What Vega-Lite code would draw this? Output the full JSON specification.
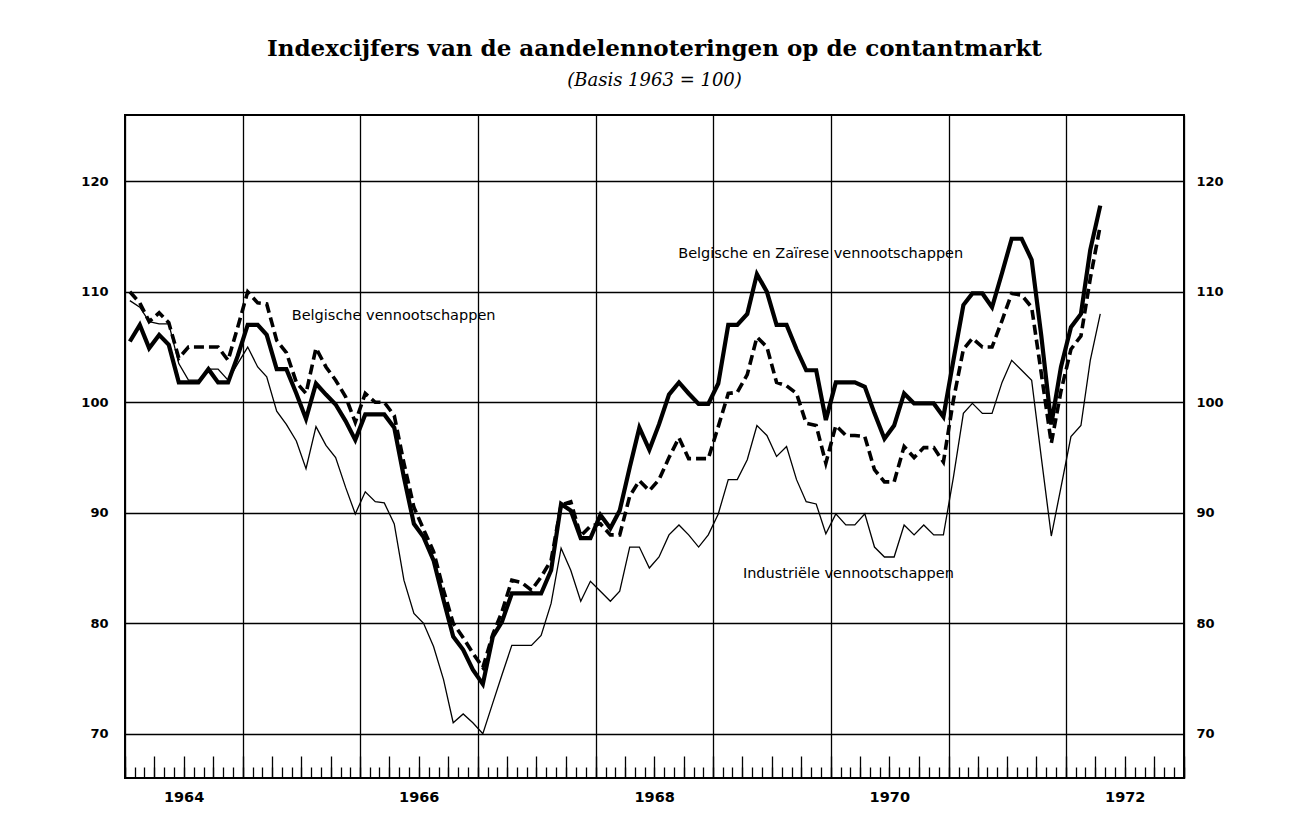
{
  "$schema": "https://vega.github.io/schema/vega-lite/v6.json",
  "width": 1059,
  "height": 663,
  "autosize": {"type": "none"},
  "padding": {"left": 125, "top": 115, "right": 125, "bottom": 48},
  "background": "white",
  "title": {
    "text": "Indexcijfers van de aandelennoteringen op de contantmarkt",
    "subtitle": "(Basis 1963 = 100)",
    "anchor": "middle",
    "font": "DejaVu Serif",
    "fontSize": 23,
    "fontWeight": "bold",
    "color": "black",
    "subtitleFont": "DejaVu Serif",
    "subtitleFontStyle": "italic",
    "subtitleFontSize": 18,
    "subtitleColor": "black",
    "subtitlePadding": 11,
    "offset": 25
  },
  "config": {
    "view": {"stroke": "black", "strokeWidth": 2},
    "axis": {"title": null, "labelColor": "black"}
  },
  "data": {
    "values": [
      {"d": "1964-01-16", "bz": 105.5, "b": 110.0, "ind": 109.2},
      {"d": "1964-02-16", "bz": 107.0, "b": 109.0, "ind": 108.6},
      {"d": "1964-03-16", "bz": 104.9, "b": 107.3, "ind": 107.3},
      {"d": "1964-04-16", "bz": 106.1, "b": 108.1, "ind": 107.1},
      {"d": "1964-05-16", "bz": 105.2, "b": 107.2, "ind": 107.1},
      {"d": "1964-06-16", "bz": 101.8, "b": 104.0, "ind": 103.5},
      {"d": "1964-07-16", "bz": 101.8, "b": 105.0, "ind": 102.0},
      {"d": "1964-08-16", "bz": 101.8, "b": 105.0, "ind": 102.0},
      {"d": "1964-09-16", "bz": 103.0, "b": 105.0, "ind": 103.0},
      {"d": "1964-10-16", "bz": 101.8, "b": 105.0, "ind": 103.0},
      {"d": "1964-11-16", "bz": 101.8, "b": 103.8, "ind": 102.0},
      {"d": "1964-12-16", "bz": 104.2, "b": 106.8, "ind": 103.5},
      {"d": "1965-01-16", "bz": 107.0, "b": 110.0, "ind": 105.0},
      {"d": "1965-02-16", "bz": 107.0, "b": 109.0, "ind": 103.2},
      {"d": "1965-03-16", "bz": 106.1, "b": 108.9, "ind": 102.3},
      {"d": "1965-04-16", "bz": 103.0, "b": 105.6, "ind": 99.2},
      {"d": "1965-05-16", "bz": 103.0, "b": 104.5, "ind": 98.0},
      {"d": "1965-06-16", "bz": 100.8, "b": 101.8, "ind": 96.5},
      {"d": "1965-07-16", "bz": 98.5, "b": 100.8, "ind": 94.0},
      {"d": "1965-08-16", "bz": 101.7, "b": 104.9, "ind": 97.8},
      {"d": "1965-09-16", "bz": 100.7, "b": 103.2, "ind": 96.1},
      {"d": "1965-10-16", "bz": 99.8, "b": 102.0, "ind": 95.0},
      {"d": "1965-11-16", "bz": 98.3, "b": 100.5, "ind": 92.3},
      {"d": "1965-12-16", "bz": 96.6, "b": 98.2, "ind": 89.9},
      {"d": "1966-01-16", "bz": 98.9, "b": 100.8, "ind": 91.9},
      {"d": "1966-02-16", "bz": 98.9, "b": 100.0, "ind": 91.0},
      {"d": "1966-03-16", "bz": 98.9, "b": 100.0, "ind": 90.9},
      {"d": "1966-04-16", "bz": 97.7, "b": 98.8, "ind": 89.0},
      {"d": "1966-05-16", "bz": 93.2, "b": 94.5, "ind": 83.9},
      {"d": "1966-06-16", "bz": 89.0, "b": 90.5, "ind": 80.9},
      {"d": "1966-07-16", "bz": 87.8, "b": 88.5, "ind": 80.0},
      {"d": "1966-08-16", "bz": 85.7, "b": 86.5, "ind": 77.9},
      {"d": "1966-09-16", "bz": 82.1, "b": 83.0, "ind": 74.9},
      {"d": "1966-10-16", "bz": 78.8, "b": 80.0, "ind": 71.0},
      {"d": "1966-11-16", "bz": 77.6, "b": 78.7, "ind": 71.8},
      {"d": "1966-12-16", "bz": 75.8, "b": 77.3, "ind": 71.0},
      {"d": "1967-01-16", "bz": 74.5, "b": 76.0, "ind": 70.0},
      {"d": "1967-02-16", "bz": 78.8, "b": 79.0, "ind": 72.8},
      {"d": "1967-03-16", "bz": 80.1, "b": 81.0, "ind": 75.3},
      {"d": "1967-04-16", "bz": 82.7, "b": 83.9, "ind": 78.0},
      {"d": "1967-05-16", "bz": 82.7, "b": 83.7, "ind": 78.0},
      {"d": "1967-06-16", "bz": 82.7, "b": 83.0, "ind": 78.0},
      {"d": "1967-07-16", "bz": 82.7, "b": 84.2, "ind": 78.9},
      {"d": "1967-08-16", "bz": 84.8, "b": 85.7, "ind": 81.8},
      {"d": "1967-09-16", "bz": 90.8, "b": 90.7, "ind": 86.8},
      {"d": "1967-10-16", "bz": 90.2, "b": 91.0, "ind": 84.8},
      {"d": "1967-11-16", "bz": 87.7, "b": 87.9, "ind": 82.0},
      {"d": "1967-12-16", "bz": 87.7, "b": 88.8, "ind": 83.8},
      {"d": "1968-01-16", "bz": 89.8, "b": 89.0, "ind": 82.9},
      {"d": "1968-02-16", "bz": 88.6, "b": 88.0, "ind": 82.0},
      {"d": "1968-03-16", "bz": 90.2, "b": 88.0, "ind": 82.9},
      {"d": "1968-04-16", "bz": 94.1, "b": 91.5, "ind": 86.9},
      {"d": "1968-05-16", "bz": 97.7, "b": 92.9, "ind": 86.9},
      {"d": "1968-06-16", "bz": 95.7, "b": 92.0, "ind": 85.0},
      {"d": "1968-07-16", "bz": 98.0, "b": 93.0, "ind": 86.0},
      {"d": "1968-08-16", "bz": 100.7, "b": 95.0, "ind": 88.0},
      {"d": "1968-09-16", "bz": 101.8, "b": 96.8, "ind": 88.9},
      {"d": "1968-10-16", "bz": 100.8, "b": 94.9, "ind": 88.0},
      {"d": "1968-11-16", "bz": 99.85, "b": 94.9, "ind": 86.9},
      {"d": "1968-12-16", "bz": 99.85, "b": 94.9, "ind": 88.0},
      {"d": "1969-01-16", "bz": 101.7, "b": 97.8, "ind": 89.9},
      {"d": "1969-02-16", "bz": 107.0, "b": 100.8, "ind": 93.0},
      {"d": "1969-03-16", "bz": 107.0, "b": 100.9, "ind": 93.0},
      {"d": "1969-04-16", "bz": 108.0, "b": 102.5, "ind": 94.8},
      {"d": "1969-05-16", "bz": 111.6, "b": 105.9, "ind": 97.9},
      {"d": "1969-06-16", "bz": 110.0, "b": 105.0, "ind": 97.0},
      {"d": "1969-07-16", "bz": 107.0, "b": 101.8, "ind": 95.1},
      {"d": "1969-08-16", "bz": 107.0, "b": 101.5, "ind": 96.0},
      {"d": "1969-09-16", "bz": 104.8, "b": 100.8, "ind": 93.0},
      {"d": "1969-10-16", "bz": 102.9, "b": 98.1, "ind": 91.0},
      {"d": "1969-11-16", "bz": 102.9, "b": 97.9, "ind": 90.8},
      {"d": "1969-12-16", "bz": 98.4, "b": 94.5, "ind": 88.1},
      {"d": "1970-01-16", "bz": 101.8, "b": 97.9, "ind": 89.9},
      {"d": "1970-02-16", "bz": 101.8, "b": 97.0, "ind": 88.9},
      {"d": "1970-03-16", "bz": 101.8, "b": 97.0, "ind": 88.9},
      {"d": "1970-04-16", "bz": 101.4, "b": 96.9, "ind": 89.9},
      {"d": "1970-05-16", "bz": 99.0, "b": 93.9, "ind": 86.9},
      {"d": "1970-06-16", "bz": 96.7, "b": 92.8, "ind": 86.0},
      {"d": "1970-07-16", "bz": 97.9, "b": 92.8, "ind": 86.0},
      {"d": "1970-08-16", "bz": 100.8, "b": 96.0, "ind": 88.9},
      {"d": "1970-09-16", "bz": 99.9, "b": 95.0, "ind": 88.0},
      {"d": "1970-10-16", "bz": 99.9, "b": 95.9, "ind": 88.9},
      {"d": "1970-11-16", "bz": 99.9, "b": 95.9, "ind": 88.0},
      {"d": "1970-12-16", "bz": 98.7, "b": 94.6, "ind": 88.0},
      {"d": "1971-01-16", "bz": 103.8, "b": 100.2, "ind": 93.2},
      {"d": "1971-02-16", "bz": 108.8, "b": 104.8, "ind": 99.0},
      {"d": "1971-03-16", "bz": 109.85, "b": 105.8, "ind": 99.9},
      {"d": "1971-04-16", "bz": 109.85, "b": 105.0, "ind": 99.0},
      {"d": "1971-05-16", "bz": 108.6, "b": 105.0, "ind": 99.0},
      {"d": "1971-06-16", "bz": 111.7, "b": 107.4, "ind": 101.8},
      {"d": "1971-07-16", "bz": 114.8, "b": 109.85, "ind": 103.8},
      {"d": "1971-08-16", "bz": 114.8, "b": 109.7, "ind": 102.9},
      {"d": "1971-09-16", "bz": 112.9, "b": 108.6, "ind": 102.0},
      {"d": "1971-10-16", "bz": 106.0, "b": 102.6, "ind": 95.0},
      {"d": "1971-11-16", "bz": 98.0, "b": 96.3, "ind": 87.9},
      {"d": "1971-12-16", "bz": 103.2, "b": 101.0, "ind": 92.3},
      {"d": "1972-01-16", "bz": 106.8, "b": 104.8, "ind": 96.9},
      {"d": "1972-02-16", "bz": 108.0, "b": 106.0, "ind": 97.9},
      {"d": "1972-03-16", "bz": 113.8, "b": 111.2, "ind": 103.8},
      {"d": "1972-04-16", "bz": 117.8, "b": 116.0, "ind": 108.0}
    ]
  },
  "layer": [
    {
      "mark": {"type": "line", "color": "black", "strokeWidth": 1.3},
      "encoding": {
        "x": {
          "field": "d", "type": "temporal",
          "scale": {"type": "utc", "domain": [{"year": 1964, "month": 1, "date": 1, "utc": true}, {"year": 1973, "month": 1, "date": 1, "utc": true}]},
          "axis": {
            "orient": "bottom",
            "tickCount": {"interval": "month", "step": 1},
            "ticks": false,
            "domain": false,
            "grid": true,
            "gridColor": "black",
            "gridWidth": 1.3,
            "gridOpacity": {"condition": {"test": "utcmonth(datum.value) == 0", "value": 1}, "value": 0},
            "labelExpr": "utcmonth(datum.value) == 6 && utcyear(datum.value) % 2 == 0 ? utcFormat(datum.value, '%Y') : ''",
            "labelOverlap": false,
            "labelFlush": false,
            "labelPadding": 12,
            "labelFont": "DejaVu Sans",
            "labelFontWeight": "bold",
            "labelFontSize": 14.5
          }
        },
        "y": {
          "field": "ind", "type": "quantitative",
          "scale": {"domain": [66, 126], "nice": false, "zero": false},
          "axis": {
            "orient": "left",
            "values": [70, 80, 90, 100, 110, 120],
            "grid": true,
            "gridColor": "black",
            "gridWidth": 1.5,
            "ticks": false,
            "domain": false,
            "labelPadding": 17,
            "labelFont": "DejaVu Sans",
            "labelFontWeight": "bold",
            "labelFontSize": 13
          }
        }
      }
    },
    {
      "mark": {"type": "line", "color": "black", "strokeWidth": 3.6, "strokeDash": [10, 5]},
      "encoding": {
        "x": {
          "field": "d", "type": "temporal",
          "axis": {
            "orient": "bottom",
            "tickCount": {"interval": "month", "step": 1},
            "ticks": true,
            "tickSize": -11,
            "tickColor": "black",
            "tickWidth": 1.3,
            "domain": false,
            "grid": false,
            "labels": false
          }
        },
        "y": {
          "field": "b", "type": "quantitative",
          "axis": {
            "orient": "right",
            "values": [70, 80, 90, 100, 110, 120],
            "grid": false,
            "ticks": false,
            "domain": false,
            "labelPadding": 12,
            "labelFont": "DejaVu Sans",
            "labelFontWeight": "bold",
            "labelFontSize": 13
          }
        }
      }
    },
    {
      "mark": {"type": "line", "color": "black", "strokeWidth": 4.2},
      "encoding": {
        "x": {
          "field": "d", "type": "temporal",
          "axis": {
            "orient": "bottom",
            "tickCount": {"interval": "month", "step": 3},
            "ticks": true,
            "tickSize": -22,
            "tickColor": "black",
            "tickWidth": 1.3,
            "domain": false,
            "grid": false,
            "labels": false
          }
        },
        "y": {"field": "bz", "type": "quantitative", "axis": null}
      }
    },
    {
      "data": {
        "values": [
          {"d": "1966-04-14", "v": 107.8, "t": "Belgische vennootschappen"},
          {"d": "1969-11-30", "v": 113.4, "t": "Belgische en Zaïrese vennootschappen"},
          {"d": "1970-02-24", "v": 84.5, "t": "Industriële vennootschappen"}
        ]
      },
      "mark": {"type": "text", "font": "DejaVu Sans", "fontSize": 14.5, "color": "black", "align": "center", "baseline": "middle"},
      "encoding": {
        "x": {"field": "d", "type": "temporal", "axis": null},
        "y": {"field": "v", "type": "quantitative", "axis": null},
        "text": {"field": "t"}
      }
    }
  ],
  "resolve": {"axis": {"x": "independent", "y": "independent"}}
}
